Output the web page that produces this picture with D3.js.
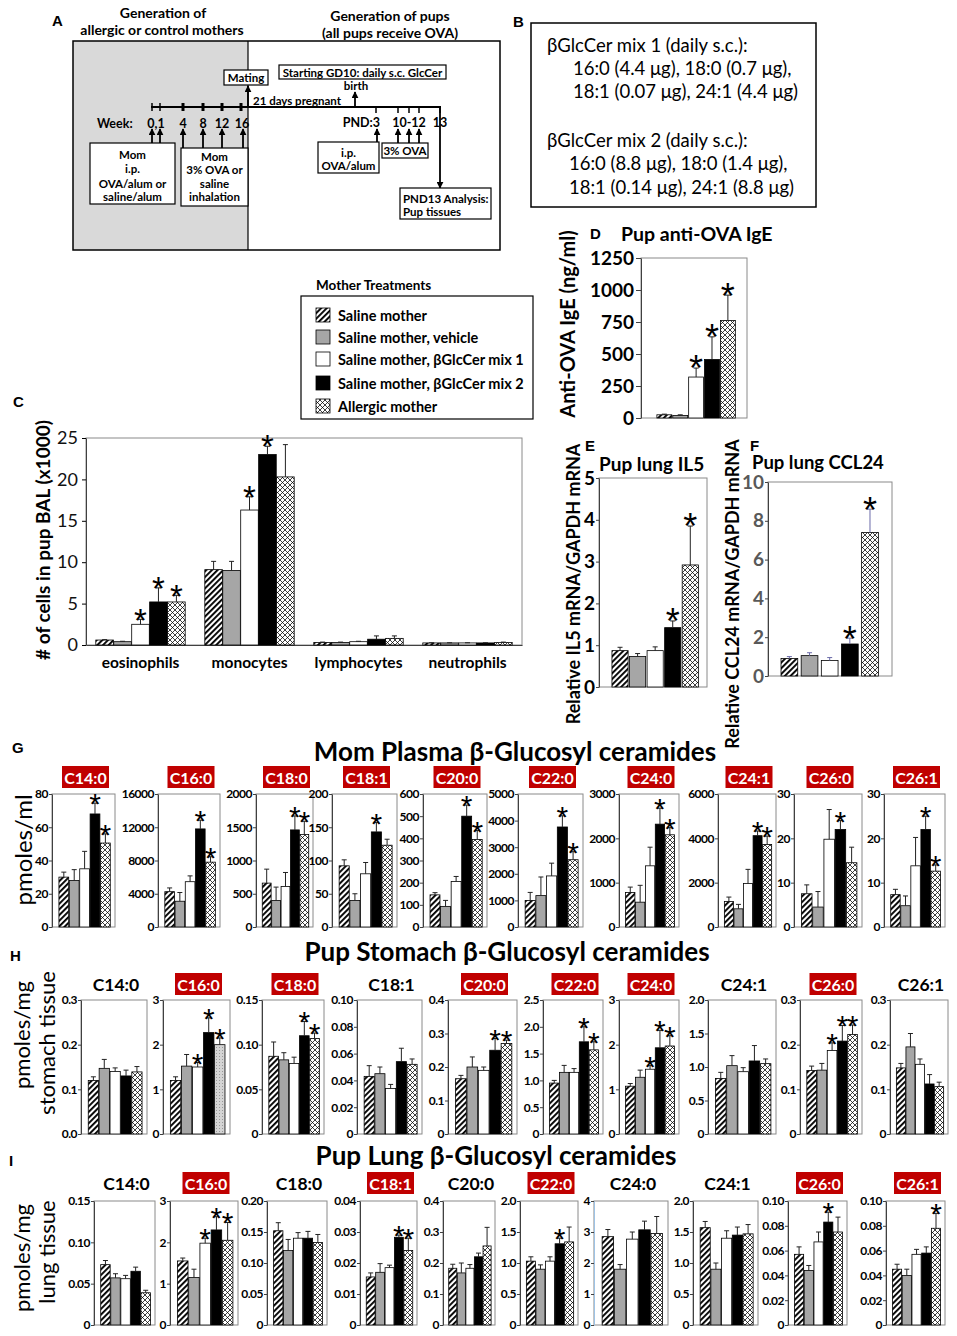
<!DOCTYPE html>
<html>
<meta charset="utf-8" />
<script src="https://d3js.org/d3.v7.min.js"></script>
<style>
  body { margin: 0; background: #fff; }
  svg { display: block; }
</style>
<body>
<svg id="fig" width="957" height="1336"></svg>
<script>
// ---------- data ----------
const groups = ["Saline mother", "Saline mother, vehicle", "Saline mother, \u03B2GlcCer mix 1",
                "Saline mother, \u03B2GlcCer mix 2", "Allergic mother"];

// C: BAL cells (x1000)
const cellTypes = ["eosinophils", "monocytes", "lymphocytes", "neutrophils"];
const cellTicks = ["0", "5", "10", "15", "20", "25"];
const cellMeans = [[0.6, 0.4, 2.5, 5.2, 5.2], [9.1, 9.0, 16.3, 23.0, 20.3],
                   [0.3, 0.3, 0.4, 0.7, 0.8], [0.25, 0.25, 0.25, 0.25, 0.3]];
const cellErrs = [[0.05, 0.05, 0.6, 1.7, 0.8], [1.0, 1.1, 1.6, 1.0, 3.9],
                  [0.05, 0.05, 0.05, 0.4, 0.3], [0.02, 0.02, 0.02, 0.02, 0.05]];
const cellStars = [[2, 3, 4], [2, 3], [], []];

// D: anti-OVA IgE (ng/ml)
const igeTicks = ["0", "250", "500", "750", "1000", "1250"];
const igeMeans = [25, 20, 320, 457, 762];
const igeErrs = [5, 5, 70, 177, 198];
const igeStars = [2, 3, 4];

// E: IL5
const il5Ticks = ["0", "1", "2", "3", "4", "5"];
const il5Means = [0.87, 0.73, 0.87, 1.42, 2.92];
const il5Errs = [0.08, 0.07, 0.09, 0.16, 0.93];
const il5Stars = [3, 4];

// F: CCL24
const ccl24Ticks = ["0", "2", "4", "6", "8", "10"];
const ccl24Means = [0.9, 1.05, 0.8, 1.65, 7.4];
const ccl24Errs = [0.1, 0.15, 0.15, 0.3, 1.2];
const ccl24Stars = [3, 4];

// G/H/I: glucosyl ceramide species
const species = ["C14:0", "C16:0", "C18:0", "C18:1", "C20:0", "C22:0", "C24:0", "C24:1", "C26:0", "C26:1"];

const plasmaTicks = [["0", "20", "40", "60", "80"], ["0", "4000", "8000", "12000", "16000"],
  ["0", "500", "1000", "1500", "2000"], ["0", "50", "100", "150", "200"],
  ["0", "100", "200", "300", "400", "500", "600"], ["0", "1000", "2000", "3000", "4000", "5000"],
  ["0", "1000", "2000", "3000"], ["0", "2000", "4000", "6000"], ["0", "10", "20", "30"], ["0", "10", "20", "30"]];
const plasmaMeans = [[30, 28, 35, 68, 50.5], [4250, 3100, 5450, 11800, 7800], [660, 400, 610, 1460, 1390],
  [92, 40, 80, 143, 123], [145, 93, 205, 500, 395], [1000, 1180, 1920, 3760, 2530],
  [780, 560, 1380, 2320, 2080], [1150, 820, 1960, 4120, 3720], [7.5, 4.5, 19.8, 22, 14.5], [7.3, 4.8, 13.8, 22, 12.6]];
const plasmaErrs = [[3, 6.5, 10.5, 6.5, 5.5], [450, 1050, 700, 1050, 650], [210, 200, 210, 210, 200],
  [9, 10, 17, 14, 9], [10, 27, 23, 50, 40], [300, 700, 480, 420, 300],
  [120, 380, 420, 360, 160], [200, 200, 640, 210, 380], [2, 3.5, 6.7, 2, 3.5], [1.2, 2.2, 6.4, 3, 1.4]];
const plasmaStars = [[3, 4], [3, 4], [3, 4], [3], [3, 4], [3, 4], [3, 4], [3, 4], [3], [3, 4]];
const plasmaRed = [1, 1, 1, 1, 1, 1, 1, 1, 1, 1];

const stomachTicks = [["0.0", "0.1", "0.2", "0.3"], ["0", "1", "2", "3"], ["0", "0.05", "0.10", "0.15"],
  ["0", "0.02", "0.04", "0.06", "0.08", "0.10"], ["0", "0.1", "0.2", "0.3", "0.4"],
  ["0", "0.5", "1.0", "1.5", "2.0", "2.5"], ["0", "1", "2", "3"], ["0", "0.5", "1.0", "1.5", "2.0"],
  ["0", "0.1", "0.2", "0.3"], ["0", "0.1", "0.2", "0.3"]];
const stomachMeans = [[0.12, 0.147, 0.14, 0.13, 0.139], [1.2, 1.52, 1.5, 2.27, 2.0],
  [0.087, 0.083, 0.079, 0.11, 0.107], [0.043, 0.045, 0.034, 0.054, 0.052], [0.165, 0.2, 0.19, 0.25, 0.27],
  [0.95, 1.15, 1.15, 1.72, 1.57], [1.07, 1.27, 1.45, 1.93, 1.97], [0.83, 1.02, 0.93, 1.09, 1.05],
  [0.142, 0.143, 0.187, 0.208, 0.223], [0.148, 0.195, 0.156, 0.112, 0.106]];
const stomachErrs = [[0.008, 0.02, 0.008, 0.013, 0.012], [0.08, 0.26, 0.1, 0.33, 0.15],
  [0.016, 0.008, 0.007, 0.016, 0.006], [0.008, 0.005, 0.003, 0.01, 0.004], [0.01, 0.03, 0.01, 0.035, 0.01],
  [0.05, 0.13, 0.07, 0.28, 0.15], [0.06, 0.16, 0.08, 0.39, 0.23], [0.09, 0.15, 0.06, 0.23, 0.07],
  [0.01, 0.015, 0.017, 0.035, 0.021], [0.01, 0.03, 0.012, 0.021, 0.01]];
const stomachStars = [[], [2, 3, 4], [3, 4], [], [3, 4], [3, 4], [2, 3, 4], [], [2, 3, 4], []];
const stomachRed = [0, 1, 1, 0, 1, 1, 1, 0, 1, 0];

const lungTicks = [["0", "0.05", "0.10", "0.15"], ["0", "1", "2", "3"], ["0", "0.05", "0.10", "0.15", "0.20"],
  ["0", "0.01", "0.02", "0.03", "0.04"], ["0", "0.1", "0.2", "0.3", "0.4"], ["0", "0.5", "1.0", "1.5", "2.0"],
  ["0", "1", "2", "3", "4"], ["0", "0.5", "1.0", "1.5", "2.0"],
  ["0", "0.02", "0.04", "0.06", "0.08", "0.10"], ["0", "0.02", "0.04", "0.06", "0.08", "0.10"]];
const lungMeans = [[0.073, 0.057, 0.056, 0.065, 0.039], [1.55, 1.15, 1.98, 2.3, 2.05],
  [0.152, 0.12, 0.14, 0.14, 0.133], [0.0155, 0.017, 0.0185, 0.0283, 0.024], [0.183, 0.168, 0.183, 0.22, 0.255],
  [1.03, 0.9, 1.03, 1.31, 1.34], [2.85, 1.8, 2.77, 3.07, 2.95], [1.57, 0.9, 1.4, 1.45, 1.47],
  [0.057, 0.044, 0.067, 0.083, 0.075], [0.045, 0.04, 0.057, 0.058, 0.078]];
const lungErrs = [[0.005, 0.005, 0.004, 0.005, 0.003], [0.07, 0.2, 0.12, 0.32, 0.43],
  [0.013, 0.018, 0.009, 0.011, 0.013], [0.0013, 0.0028, 0.0008, 0.0007, 0.004], [0.013, 0.032, 0.012, 0.012, 0.06],
  [0.07, 0.07, 0.07, 0.09, 0.24], [0.23, 0.15, 0.23, 0.28, 0.55], [0.1, 0.1, 0.12, 0.13, 0.15],
  [0.006, 0.004, 0.008, 0.008, 0.012], [0.004, 0.005, 0.004, 0.005, 0.012]];
const lungStars = [[], [2, 3, 4], [], [3, 4], [], [3], [], [], [3], [4]];
const lungRed = [0, 1, 0, 1, 0, 1, 0, 0, 1, 1];

// ---------- layout ----------
const FONT = "Lato, 'Open Sans', sans-serif";
const ARIAL = "'Liberation Sans', Arial, sans-serif";
const RED = "#c00000";

const rowG = { top: 794, bottom: 927, labelY: 777,
  frames: [[52, 115], [158, 220], [256, 313], [332, 397], [423, 487], [518, 583], [619, 679], [718, 776], [794, 862], [884, 945]] };
const rowH = { top: 1000, bottom: 1134, labelY: 984,
  frames: [[81, 147], [163, 230], [262, 324], [357, 422], [448, 517], [543, 603], [619, 679], [708, 776], [800, 862], [890, 948]] };
const rowI = { top: 1201, bottom: 1325, labelY: 1183,
  frames: [[94, 155], [170, 238], [267, 327], [360, 417], [443, 495], [520, 578], [594, 668], [693, 758], [788, 847], [886, 945]] };

const svg = d3.select("#fig");
svg.append("rect").attr("width", 957).attr("height", 1336).attr("fill", "#fff");
const defs = svg.append("defs");

const hatch = defs.append("pattern").attr("id", "hatch").attr("patternUnits", "userSpaceOnUse")
  .attr("width", 4).attr("height", 4).attr("patternTransform", "rotate(45)");
hatch.append("rect").attr("width", 4).attr("height", 4).attr("fill", "#fff");
hatch.append("rect").attr("width", 1.9).attr("height", 4).attr("fill", "#000");

const cross = defs.append("pattern").attr("id", "cross").attr("patternUnits", "userSpaceOnUse")
  .attr("width", 5).attr("height", 5);
cross.append("rect").attr("width", 5).attr("height", 5).attr("fill", "#fff");
cross.append("path").attr("d", "M0,0L5,5M5,0L0,5").attr("stroke", "#000").attr("stroke-width", 0.75);

const dots = defs.append("pattern").attr("id", "dots").attr("patternUnits", "userSpaceOnUse")
  .attr("width", 3).attr("height", 3);
dots.append("rect").attr("width", 3).attr("height", 3).attr("fill", "#d4d4d4");
dots.append("rect").attr("width", 1).attr("height", 1).attr("fill", "#999");

defs.append("marker").attr("id", "arrow").attr("viewBox", "0 0 10 10").attr("refX", 9).attr("refY", 5)
  .attr("markerWidth", 7).attr("markerHeight", 7).attr("markerUnits", "userSpaceOnUse").attr("orient", "auto")
  .append("path").attr("d", "M0,0L10,5L0,10z").attr("fill", "#000");

const fills = ["url(#hatch)", "#a6a6a6", "#fff", "#000", "url(#cross)"];

function txt(x, y, s, o = {}) {
  const t = svg.append("text").attr("x", x).attr("y", y).text(s)
    .attr("font-family", o.family || FONT).attr("font-size", o.size || 12)
    .attr("font-weight", o.weight || "bold").attr("text-anchor", o.anchor || "start")
    .attr("dominant-baseline", "central").attr("fill", o.fill || "#000");
  if (o.rotate) t.attr("x", 0).attr("y", 0).attr("transform", `translate(${x},${y}) rotate(-90)`);
  return t;
}

function drawBars(g, x, y, means, errs, stars, o = {}) {
  const bw = x.bandwidth();
  const dx = o.dx || 0;
  const d = means.map((m, i) => ({ m, e: errs[i], i }));
  g.selectAll(null).data(d).join("rect")
    .attr("x", p => dx + x(p.i)).attr("y", p => y(p.m)).attr("width", bw).attr("height", p => y(0) - y(p.m))
    .attr("fill", p => (o.fills && o.fills[p.i]) || fills[p.i]).attr("stroke", "#000").attr("stroke-width", 0.8);
  const ec = o.errColor || "#222";
  g.selectAll(null).data(d).join("line")
    .attr("x1", p => dx + x(p.i) + bw / 2).attr("x2", p => dx + x(p.i) + bw / 2)
    .attr("y1", p => y(p.m)).attr("y2", p => y(p.m + p.e)).attr("stroke", ec).attr("stroke-width", 1);
  g.selectAll(null).data(d).join("line")
    .attr("x1", p => dx + x(p.i) + bw / 2 - 2.5).attr("x2", p => dx + x(p.i) + bw / 2 + 2.5)
    .attr("y1", p => y(p.m + p.e)).attr("y2", p => y(p.m + p.e)).attr("stroke", ec).attr("stroke-width", 1);
  const ss = o.starSize || 30;
  g.selectAll(null).data(stars).join("text")
    .attr("x", i => dx + x(i) + bw / 2).attr("y", i => y(means[i] + errs[i]) + 0.4 * ss - 1)
    .attr("text-anchor", "middle").attr("font-family", ARIAL).attr("font-size", ss)
    .text("*");
}

function barPanel(o) {
  const lab = new Map(o.ticks.map(t => [+t, t]));
  const y = d3.scaleLinear().domain([0, d3.max(o.ticks, Number)]).range([o.bottom, o.top]);
  const w = o.right - o.left;
  const x = d3.scaleBand().domain(d3.range(o.means.length))
    .range([o.left + w * (o.padL ?? 0.11), o.right - w * (o.padR ?? 0.075)])
    .paddingInner(o.inner ?? 0.06);
  const g = svg.append("g");
  g.append("rect").attr("x", o.left).attr("y", o.top).attr("width", w).attr("height", o.bottom - o.top)
    .attr("fill", "none").attr("stroke", "#8a8a8a").attr("stroke-width", 1);
  const ax = g.append("g").attr("transform", `translate(${o.left},0)`)
    .call(d3.axisLeft(y).tickValues([...lab.keys()]).tickFormat(v => lab.get(v))
      .tickSize(o.tickLen ?? 3).tickSizeOuter(0).tickPadding(o.tickPad ?? 1));
  ax.select(".domain").attr("stroke", o.axisColor || "#404040");
  ax.selectAll(".tick line").attr("stroke", "#404040");
  ax.selectAll("text").attr("font-family", FONT).attr("font-weight", "bold")
    .attr("font-size", o.fs ?? 12).attr("letter-spacing", o.ls ?? "-0.5px").attr("fill", o.tickColor || "#000");
  drawBars(g, x, y, o.means, o.errs, o.stars, o);
}

// ---------- panel A ----------
txt(52, 20, "A", { family: ARIAL, size: 15 });
txt(163, 12, "Generation of", { size: 14, anchor: "middle" });
txt(162, 29, "allergic or control mothers", { size: 14, anchor: "middle" });
txt(390, 15, "Generation of pups", { size: 14, anchor: "middle" });
txt(390, 32, "(all pups receive OVA)", { size: 14, anchor: "middle" });
svg.append("rect").attr("x", 73).attr("y", 41).attr("width", 175).attr("height", 209).attr("fill", "#d9d9d9");
svg.append("rect").attr("x", 73).attr("y", 41).attr("width", 427).attr("height", 209)
  .attr("fill", "none").attr("stroke", "#000").attr("stroke-width", 1.5);
svg.append("line").attr("x1", 248).attr("x2", 248).attr("y1", 41).attr("y2", 250).attr("stroke", "#000").attr("stroke-width", 1.2);
svg.append("line").attr("x1", 151).attr("x2", 441).attr("y1", 107).attr("y2", 107).attr("stroke", "#000").attr("stroke-width", 2);
[152, 160, 183, 203, 222, 241].forEach(v => svg.append("line").attr("x1", v).attr("x2", v).attr("y1", 103).attr("y2", 111)
  .attr("stroke", "#000").attr("stroke-width", v > 170 ? 3 : 1.5));
[376, 398, 409, 419, 440].forEach(v => svg.append("line").attr("x1", v).attr("x2", v).attr("y1", 107).attr("y2", 113)
  .attr("stroke", "#000").attr("stroke-width", 1.5));
const arrows = [[152, 143, 129], [160, 143, 129], [183, 148, 129], [203, 148, 129], [222, 148, 129], [243, 148, 129],
  [248, 107, 86], [355, 107, 92], [377, 142, 129], [398, 143, 129], [409, 143, 129], [419, 143, 129], [440, 107, 188]];
arrows.forEach(a => svg.append("line").attr("x1", a[0]).attr("x2", a[0]).attr("y1", a[1]).attr("y2", a[2])
  .attr("stroke", "#000").attr("stroke-width", 1.8).attr("marker-end", "url(#arrow)"));
function boxA(x, y, w, h, lines, ly, o = {}) {
  svg.append("rect").attr("x", x).attr("y", y).attr("width", w).attr("height", h)
    .attr("fill", "#fff").attr("stroke", "#000").attr("stroke-width", 1.2);
  lines.forEach((s, i) => txt(o.left ? x + 3 : x + w / 2, ly[i], s, { size: 11.5, anchor: o.left ? "start" : "middle" }));
}
boxA(90, 143, 85, 61, ["Mom", "i.p.", "OVA/alum or", "saline/alum"], [154, 168, 183, 196]);
boxA(181, 148, 67, 58, ["Mom", "3% OVA or", "saline", "inhalation"], [156, 169.5, 183, 196.5]);
boxA(224, 70, 44, 15, ["Mating"], [77.5]);
boxA(279, 65, 167, 14, ["Starting GD10: daily s.c. GlcCer"], [72]);
boxA(318, 142, 61, 31, ["i.p.", "OVA/alum"], [152, 165]);
boxA(382, 143, 46, 15, ["3% OVA"], [150.5]);
boxA(400, 188, 91, 31, ["PND13 Analysis:", "Pup tissues"], [198, 211], { left: true });
txt(356, 85, "birth", { size: 11.5, anchor: "middle" });
txt(253, 100, "21 days pregnant", { size: 11.5 });
txt(97, 123, "Week:", { size: 12.5 });
[["0,1", 156], ["4", 183], ["8", 203], ["12", 222], ["16", 242]].forEach(p => txt(p[1], 123, p[0], { size: 12.5, anchor: "middle" }));
txt(380, 122, "PND:3", { size: 12.5, anchor: "end" });
txt(409, 122, "10-12", { size: 12.5, anchor: "middle" });
txt(440, 122, "13", { size: 12.5, anchor: "middle" });

// ---------- panel B ----------
txt(513, 21, "B", { family: ARIAL, size: 15 });
svg.append("rect").attr("x", 531).attr("y", 23).attr("width", 285).attr("height", 184)
  .attr("fill", "none").attr("stroke", "#000").attr("stroke-width", 1.5);
[["\u03B2GlcCer mix 1 (daily s.c.):", 547, 45], ["16:0 (4.4 \u03BCg), 18:0 (0.7 \u03BCg),", 573, 68],
 ["18:1 (0.07 \u03BCg), 24:1 (4.4 \u03BCg)", 573, 91], ["\u03B2GlcCer mix 2 (daily s.c.):", 547, 140],
 ["16:0 (8.8 \u03BCg), 18:0 (1.4 \u03BCg),", 569, 163], ["18:1 (0.14 \u03BCg), 24:1 (8.8 \u03BCg)", 569, 187]]
  .forEach(p => txt(p[1], p[2], p[0], { size: 18.5, weight: "normal" }));

// ---------- legend ----------
txt(316, 285, "Mother Treatments", { size: 13.5 });
svg.append("rect").attr("x", 301).attr("y", 296).attr("width", 232).attr("height", 123)
  .attr("fill", "#fff").attr("stroke", "#000").attr("stroke-width", 1.2);
const legY = [315, 337, 359, 383, 406];
groups.forEach((s, i) => {
  svg.append("rect").attr("x", 316).attr("y", legY[i] - 7).attr("width", 14).attr("height", 14)
    .attr("fill", fills[i]).attr("stroke", "#000").attr("stroke-width", 0.8);
  txt(338, legY[i], s, { size: 14.5 });
});

// ---------- panel C ----------
txt(13, 401, "C", { family: ARIAL, size: 15 });
{
  const left = 86, right = 522, top = 438, bottom = 645;
  const y = d3.scaleLinear().domain([0, 25]).range([bottom, top]);
  const xc = d3.scaleBand().domain(cellTypes).range([left, right]).paddingInner(0.18).paddingOuter(0.09);
  const xi = d3.scaleBand().domain(d3.range(5)).range([0, xc.bandwidth()]).paddingInner(0.02);
  const g = svg.append("g");
  g.append("rect").attr("x", left).attr("y", top).attr("width", right - left).attr("height", bottom - top)
    .attr("fill", "none").attr("stroke", "#8a8a8a");
  const ax = g.append("g").attr("transform", `translate(${left},0)`)
    .call(d3.axisLeft(y).tickValues(cellTicks.map(Number)).tickFormat((v, i) => cellTicks[i]).tickSize(4).tickSizeOuter(0).tickPadding(4));
  ax.select(".domain").attr("stroke", "#404040");
  ax.selectAll("text").attr("font-family", FONT).attr("font-size", 18).attr("font-weight", "normal").attr("fill", "#111");
  const xa = g.append("g").attr("transform", `translate(0,${bottom})`).call(d3.axisBottom(xc).tickSize(0).tickPadding(12));
  xa.select(".domain").attr("stroke", "#404040");
  xa.selectAll("text").attr("font-family", FONT).attr("font-size", 15.5).attr("font-weight", "bold").attr("fill", "#000");
  cellTypes.forEach((c, k) => drawBars(g, xi, y, cellMeans[k], cellErrs[k], cellStars[k], { dx: xc(c), starSize: 33 }));
  txt(42, 540, "# of cells in pup BAL (x1000)", { size: 19, anchor: "middle", rotate: true });
}

// ---------- panel D ----------
txt(590, 233, "D", { family: ARIAL, size: 15 });
txt(621, 233, "Pup anti-OVA IgE", { size: 19.5 });
txt(567, 324, "Anti-OVA IgE (ng/ml)", { size: 20, anchor: "middle", rotate: true });
barPanel({ left: 641, right: 747, top: 258, bottom: 418, ticks: igeTicks, means: igeMeans, errs: igeErrs,
  stars: igeStars, padL: 0.15, padR: 0.11, inner: 0.06, fs: 19, ls: "0px", tickLen: 5, tickPad: 2, starSize: 36 });

// ---------- panel E ----------
txt(585, 445, "E", { family: ARIAL, size: 15 });
txt(599, 463, "Pup lung IL5", { size: 19 });
txt(573, 584, "Relative IL5 mRNA/GAPDH mRNA", { size: 18, anchor: "middle", rotate: true });
barPanel({ left: 599, right: 707, top: 478, bottom: 687, ticks: il5Ticks, means: il5Means, errs: il5Errs,
  stars: il5Stars, padL: 0.12, padR: 0.08, inner: 0.08, fs: 19, ls: "0px", tickLen: 3, tickPad: 1, starSize: 36 });

// ---------- panel F ----------
txt(750, 445, "F", { family: ARIAL, size: 15 });
txt(752, 462, "Pup lung CCL24", { size: 18.5 });
txt(732, 594, "Relative CCL24 mRNA/GAPDH mRNA", { size: 18, anchor: "middle", rotate: true });
barPanel({ left: 768, right: 892, top: 482, bottom: 676, ticks: ccl24Ticks, means: ccl24Means, errs: ccl24Errs,
  stars: ccl24Stars, padL: 0.105, padR: 0.11, inner: 0.17, fs: 19, ls: "0px", tickLen: 3, tickPad: 1, starSize: 36,
  tickColor: "#595959", errColor: "#6a6aa8" });

// ---------- panels G, H, I ----------
function speciesRow(row, ticks, means, errs, stars, red, extra = {}) {
  species.forEach((s, k) => {
    const [l, r] = row.frames[k];
    const cx = (l + r) / 2 + 2;
    if (red[k]) {
      svg.append("rect").attr("x", cx - 23.5).attr("y", row.labelY - 11).attr("width", 47).attr("height", 22).attr("fill", RED);
      txt(cx, row.labelY, s, { size: 16, anchor: "middle", fill: "#fff" });
    } else {
      txt(cx, row.labelY, s, { size: 17.5, anchor: "middle" });
    }
    barPanel(Object.assign({ left: l, right: r, top: row.top, bottom: row.bottom, ticks: ticks[k],
      means: means[k], errs: errs[k], stars: stars[k] }, extra[k] || {}));
  });
}

txt(12, 747, "G", { family: ARIAL, size: 15 });
txt(515, 751, "Mom Plasma \u03B2-Glucosyl ceramides", { size: 26, anchor: "middle" });
txt(22, 850, "pmoles/ml", { size: 24, weight: "normal", anchor: "middle", rotate: true });
speciesRow(rowG, plasmaTicks, plasmaMeans, plasmaErrs, plasmaStars, plasmaRed);

txt(10, 955, "H", { family: ARIAL, size: 15 });
txt(507, 951, "Pup Stomach \u03B2-Glucosyl ceramides", { size: 26, anchor: "middle" });
txt(21, 1035, "pmoles/mg", { size: 22, weight: "normal", anchor: "middle", rotate: true });
txt(46, 1043, "stomach tissue", { size: 22, weight: "normal", anchor: "middle", rotate: true });
speciesRow(rowH, stomachTicks, stomachMeans, stomachErrs, stomachStars, stomachRed,
  { 1: { fills: [null, null, null, null, "url(#dots)"] } });

txt(9, 1160, "I", { family: ARIAL, size: 15 });
txt(496, 1155, "Pup Lung \u03B2-Glucosyl ceramides", { size: 26, anchor: "middle" });
txt(21, 1258, "pmoles/mg", { size: 22, weight: "normal", anchor: "middle", rotate: true });
txt(46, 1252, "lung tissue", { size: 22, weight: "normal", anchor: "middle", rotate: true });
speciesRow(rowI, lungTicks, lungMeans, lungErrs, lungStars, lungRed, { 6: { axisColor: "#9dc3e6" } });
</script>
</body>
</html>
